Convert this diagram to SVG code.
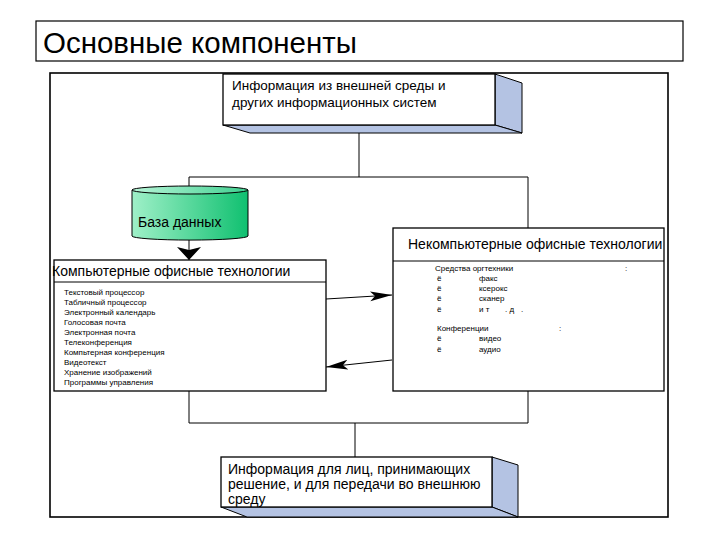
<svg xmlns="http://www.w3.org/2000/svg" width="720" height="540" viewBox="0 0 720 540">
<style>
text{font-family:"Liberation Sans",Arial,sans-serif;fill:#000}
.box{fill:#fff;stroke:#000;stroke-width:1.3}
.ext{fill:#b4c3e3;stroke:#000;stroke-width:1}
.ln{fill:none;stroke:#000;stroke-width:1}
.m{font-size:13.5px}
.h{font-size:14px}
.s{font-size:8px}
</style>
<defs>
<linearGradient id="g" x1="0" y1="0" x2="1" y2="0">
<stop offset="0" stop-color="#9ff0c8"/>
<stop offset="1" stop-color="#10c070"/>
</linearGradient>
<linearGradient id="gt" x1="0" y1="0" x2="1" y2="0">
<stop offset="0" stop-color="#b8f5d8"/>
<stop offset="1" stop-color="#40d090"/>
</linearGradient>
<marker id="ah" markerUnits="userSpaceOnUse" markerWidth="24" markerHeight="12" refX="22" refY="6" orient="auto">
<path d="M0,1 L22,6 L0,11 L5,6 z" fill="#000"/>
</marker>
<marker id="ad" markerUnits="userSpaceOnUse" markerWidth="14" markerHeight="26" refX="13" refY="12" orient="auto">
<path d="M0,0 L13,12 L0,24 L3,12 z" fill="#000"/>
</marker>
</defs>
<rect width="720" height="540" fill="#fff"/>
<g id="title">
<rect x="36" y="21" width="647" height="40" fill="#fff" stroke="#000" stroke-width="1.2"/>
<text x="43" y="53" font-size="29.5" textLength="314" lengthAdjust="spacingAndGlyphs">Основные компоненты</text>
</g>
<g id="frame">
<rect x="50" y="73" width="618" height="444" fill="none" stroke="#000" stroke-width="1.6"/>
</g>
<g id="connectors">
<line class="ln" x1="359" y1="125" x2="359" y2="177"/>
<line class="ln" x1="189" y1="177" x2="528" y2="177"/>
<line class="ln" x1="189" y1="177" x2="189" y2="187"/>
<line class="ln" x1="528" y1="177" x2="528" y2="228"/>
<line class="ln" x1="189" y1="240" x2="189" y2="260" marker-end="url(#ad)"/>
<line class="ln" x1="326" y1="299" x2="392" y2="295" marker-end="url(#ah)"/>
<line class="ln" x1="392" y1="360" x2="326" y2="367" marker-end="url(#ah)"/>
<polyline class="ln" points="189,391 189,423 528,423 528,391"/>
<line class="ln" x1="355" y1="423" x2="355" y2="457"/>
</g>
<g id="input">
<polygon class="ext" points="495,74 522,83 522,133 495,125"/>
<polygon class="ext" points="223,125 495,125 522,133 250,133"/>
<rect class="box" x="223" y="74" width="272" height="51"/>
<text class="m" x="232" y="90">Информация из внешней среды и</text>
<text class="m" x="232" y="107">других информационных систем</text>
</g>
<g id="database">
<path d="M132,190 L132,236 A57,4 0 0 0 248,236 L248,190 Z" fill="url(#g)" stroke="#000" stroke-width="1"/>
<ellipse cx="190" cy="190" rx="58" ry="4" fill="url(#gt)" stroke="#000" stroke-width="1"/>
<text class="h" x="138" y="227">База данных</text>
</g>
<g id="computer">
<rect class="box" x="54" y="260" width="272" height="131"/>
<line class="ln" x1="54" y1="282" x2="326" y2="282"/>
<text class="h" x="52" y="276">Компьютерные офисные технологии</text>
<text class="s" x="64" y="295">Текстовый процессор</text>
<text class="s" x="64" y="305">Табличный процессор</text>
<text class="s" x="64" y="315">Электронный календарь</text>
<text class="s" x="64" y="325">Голосовая почта</text>
<text class="s" x="64" y="335">Электронная почта</text>
<text class="s" x="64" y="345">Телеконференция</text>
<text class="s" x="64" y="355">Компьтерная конференция</text>
<text class="s" x="64" y="365">Видеотекст</text>
<text class="s" x="64" y="375">Хранение изображений</text>
<text class="s" x="64" y="385">Программы управления</text>
</g>
<g id="noncomputer">
<rect class="box" x="393" y="228" width="271" height="163"/>
<line class="ln" x1="393" y1="261" x2="664" y2="261"/>
<text class="h" x="408" y="249">Некомпьютерные офисные технологии</text>
<text class="s" x="435" y="271">Средства оргтехники</text>
<text class="s" x="625" y="271">:</text>
<text class="s" x="437" y="281">ё</text><text class="s" x="479" y="281">факс</text>
<text class="s" x="437" y="291">ё</text><text class="s" x="479" y="291">ксерокс</text>
<text class="s" x="437" y="301">ё</text><text class="s" x="479" y="301">сканер</text>
<text class="s" x="437" y="312">ё</text><text class="s" x="479" y="312">и т</text><text class="s" x="505" y="312">. д</text><text class="s" x="521" y="312">.</text>
<text class="s" x="437" y="331">Конференции</text>
<text class="s" x="559" y="331">:</text>
<text class="s" x="437" y="341">ё</text><text class="s" x="479" y="341">видео</text>
<text class="s" x="437" y="352">ё</text><text class="s" x="479" y="352">аудио</text>
</g>
<g id="output">
<polygon class="ext" points="492,457 518,465 518,517 492,507"/>
<polygon class="ext" points="221,507 492,507 518,517 247,517"/>
<rect class="box" x="221" y="457" width="271" height="50"/>
<text class="h" x="228" y="474">Информация для лиц, принимающих</text>
<text class="h" x="228" y="489">решение, и для передачи во внешнюю</text>
<text class="h" x="228" y="504">среду</text>
</g>
</svg>
